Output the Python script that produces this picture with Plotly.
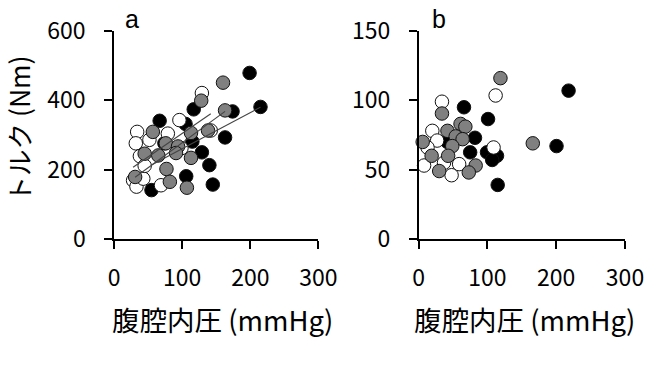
import numpy as np
import plotly.graph_objects as go

# Panel a: torque (Nm) vs intra-abdominal pressure (mmHg)
a_black_x = [199, 215, 174, 117, 67, 105, 163, 115, 129, 140, 106, 145, 55, 74]
a_black_y = [479, 381, 368, 374, 341, 332, 293, 281, 250, 213, 181, 157, 141, 276]
a_white_x = [129, 96, 34, 142, 79, 32, 52, 38, 28, 33, 43, 69, 99, 45]
a_white_y = [421, 343, 309, 313, 304, 276, 286, 239, 169, 151, 174, 155, 262, 211]
a_gray_x = [160, 128, 163, 57, 113, 138, 76, 94, 45, 65, 91, 113, 77, 31, 82, 107]
a_gray_y = [451, 399, 371, 309, 306, 313, 276, 267, 246, 241, 248, 234, 202, 179, 165, 148]

# Panel b
b_black_x = [218, 66, 101, 82, 75, 99.5, 114, 107, 200.5, 115, 42]
b_black_y = [107, 95, 86.5, 73, 62.5, 62.5, 60, 57, 67, 39, 70]
b_white_x = [34, 112, 20, 27, 8, 48, 59, 109, 37, 13]
b_white_y = [99, 103.5, 78, 71, 53, 46, 54, 66, 55, 66]
b_gray_x = [119, 34, 6, 42, 61, 68, 54, 64, 49, 19, 43, 30, 83, 73, 166]
b_gray_y = [116, 90.5, 70, 78, 83, 81, 74, 72, 67, 60, 60, 49, 53, 48, 69]

x_ticks = [0, 100, 200, 300]
ya_ticks = [0, 200, 400, 600]
yb_ticks = [0, 50, 100, 150]

x_title = "腹腔内圧 (mmHg)"
y_title = "トルク (Nm)"
panel_labels = ["a", "b"]

FONT = "Noto Sans CJK JP"

fig = go.Figure()

def add_points(xs, ys, fill, xa, ya):
    fig.add_trace(go.Scatter(
        x=xs, y=ys, mode="markers", xaxis=xa, yaxis=ya,
        marker=dict(size=13.5, color=fill, line=dict(color="#111111", width=1)),
        showlegend=False, cliponaxis=False))

def add_fit(xs, ys):
    xs = np.array(xs, float); ys = np.array(ys, float)
    k, c = np.polyfit(xs, ys, 1)
    xe = np.array([xs.min(), xs.max()])
    fig.add_trace(go.Scatter(x=xe, y=k * xe + c, mode="lines", xaxis="x", yaxis="y",
                             line=dict(color="#444444", width=1.1), showlegend=False))

for xa, ya, sets in [("x", "y", [(a_black_x, a_black_y, "#000000"),
                                 (a_white_x, a_white_y, "#ffffff"),
                                 (a_gray_x, a_gray_y, "#808080")]),
                     ("x2", "y2", [(b_black_x, b_black_y, "#000000"),
                                   (b_white_x, b_white_y, "#ffffff"),
                                   (b_gray_x, b_gray_y, "#808080")])]:
    for xs, ys, col in sets:
        add_points(xs, ys, col, xa, ya)

add_fit(a_black_x, a_black_y)
add_fit(a_white_x, a_white_y)
add_fit(a_gray_x, a_gray_y)

ax_common = dict(showline=True, linecolor="#000000", linewidth=1.5, ticks="outside",
                 ticklen=8, tickcolor="#000000", tickwidth=1.5, showgrid=False,
                 zeroline=False, tickfont=dict(family=FONT, size=23, color="#000"))
xt = dict(tickvals=x_ticks, range=[0, 300], ticklabelstandoff=10)

title_font = dict(family=FONT, size=27.5, color="#000")
letter_font = dict(family="Liberation Sans", size=25, color="#000")

fig.update_layout(
    width=656, height=390,
    margin=dict(l=114, r=27, t=24, b=151),
    paper_bgcolor="white", plot_bgcolor="white",
    xaxis=dict(domain=[0, 0.4], anchor="y", **xt, **ax_common),
    xaxis2=dict(domain=[0.596, 1], anchor="y2", **xt, **ax_common),
    yaxis=dict(domain=[0, 1], anchor="x", range=[0, 600], tickvals=ya_ticks, ticklabelstandoff=14,
               **ax_common),
    yaxis2=dict(domain=[0, 1], anchor="x2", range=[0, 150], tickvals=yb_ticks, ticklabelstandoff=14,
                **ax_common),
    annotations=[
        dict(text=x_title, x=0.2117, y=-0.386, xref="paper", yref="paper", showarrow=False,
             font=title_font, xanchor="center", yanchor="middle"),
        dict(text=x_title, x=0.804, y=-0.386, xref="paper", yref="paper", showarrow=False,
             font=title_font, xanchor="center", yanchor="middle"),
        dict(text=y_title, x=-0.1864, y=0.53, xref="paper", yref="paper", showarrow=False,
             font=dict(family=FONT, size=26.5, color="#000"), textangle=-90,
             xanchor="center", yanchor="middle"),
        dict(text=panel_labels[0], x=0.019, y=0.986, xref="paper", yref="paper", showarrow=False,
             font=letter_font, xanchor="left", yanchor="bottom", borderpad=0),
        dict(text=panel_labels[1], x=0.620, y=0.986, xref="paper", yref="paper", showarrow=False,
             font=letter_font, xanchor="left", yanchor="bottom", borderpad=0),
    ],
)

fig.write_html("out.html")
